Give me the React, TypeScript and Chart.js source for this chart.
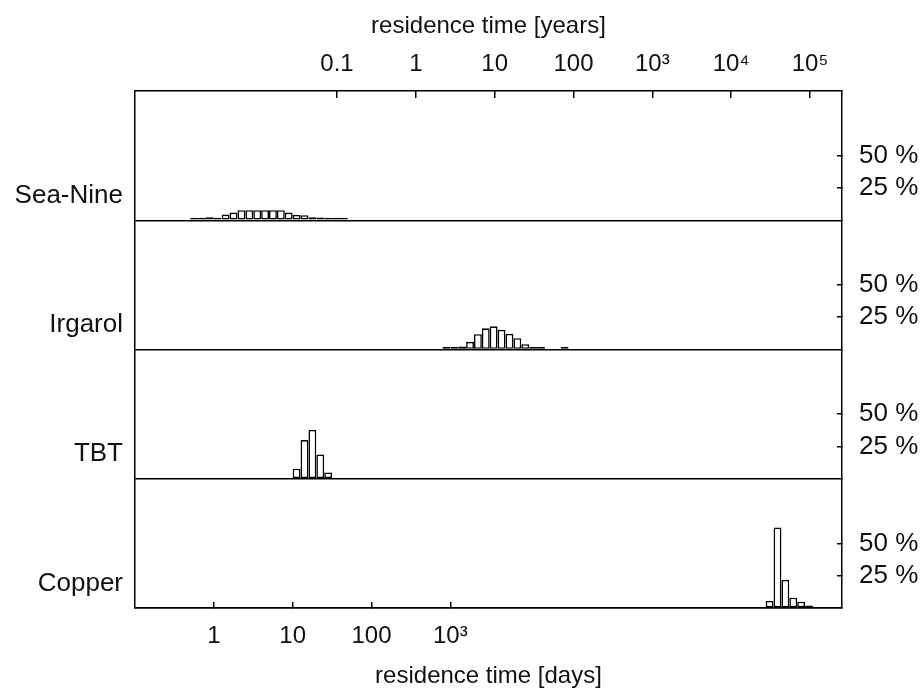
import React, { useEffect, useRef } from 'react';
import { Chart, registerables } from 'chart.js';

Chart.register(...registerables);

// ---- data ----
const panelNames = ['Sea-Nine', 'Irgarol', 'TBT', 'Copper'];

// bin centres in days (0.1-decade log bins) and share of runs in %
const seaNineDays = [0.562, 0.708, 0.891, 1.122, 1.413, 1.778, 2.239, 2.818, 3.548, 4.467, 5.623, 7.079, 8.913, 11.22, 14.13, 17.78, 22.39, 28.18, 35.48, 44.67];
const seaNinePct = [2.0, 2.0, 2.4, 2.0, 4.4, 5.9, 7.8, 7.8, 7.8, 7.8, 7.8, 7.8, 5.9, 4.1, 3.9, 2.3, 2.1, 2.0, 2.0, 2.0];

const irgarolDays = [891.3, 1122, 1413, 1778, 2239, 2818, 3548, 4467, 5623, 7079, 8913, 11220, 14130, 28180];
const irgarolPct = [2.0, 2.0, 2.4, 5.9, 11.8, 16.4, 17.9, 15.2, 12.1, 8.7, 4.1, 2.0, 2.0, 2.0];

const tbtDays = [11.22, 14.13, 17.78, 22.39, 28.18];
const tbtPct = [7.8, 29.9, 37.8, 18.8, 4.9];

const copperDays = [11220000, 14130000, 17780000, 22390000, 28180000, 35480000];
const copperPct = [5.4, 62.3, 21.8, 8.0, 4.9, 2.0];

const bottomTickValues = [1, 10, 100, 1000];
const bottomTickLabels = ['1', '10', '100', '10³'];
const topTickValues = [0.1, 1, 10, 100, 1000, 10000, 100000];
const topTickLabels = ['0.1', '1', '10', '100', '10³', '10⁴', '10⁵'];
const percentTickValues = [25, 50];
const percentTickLabels = ['25 %', '50 %'];
const nameTickValue = 19;

const DAYS_PER_YEAR = 365.25;
const X_MIN_DAYS = 0.1;
const X_MAX_DAYS = 9.3e7;

const FONT = "'Liberation Sans', Arial, Helvetica, sans-serif";
const INK = '#111';

const panelDays = [seaNineDays, irgarolDays, tbtDays, copperDays];
const panelPct = [seaNinePct, irgarolPct, tbtPct, copperPct];

function nameAxis(i: number) {
  return {
    type: 'linear',
    position: 'left',
    stack: 'left',
    stackWeight: 1,
    weight: 10 - i,
    min: 0,
    max: 100,
    afterBuildTicks: (s: any) => {
      s.ticks = [{ value: 0 }, { value: nameTickValue }];
    },
    ticks: {
      autoSkip: false,
      padding: 12,
      color: INK,
      font: { family: FONT, size: 26 },
      callback: (v: number) => (v === nameTickValue ? panelNames[i] : ''),
    },
    grid: {
      drawTicks: false,
      drawOnChartArea: true,
      lineWidth: 1.5,
      color: (c: any) => (c.tick && c.tick.value === 0 ? '#000' : 'rgba(0,0,0,0)'),
    },
    border: { display: true, color: '#000', width: 1.5 },
    afterFit: (s: any) => {
      s.width = 135;
    },
  };
}

function percentAxis(i: number) {
  return {
    type: 'linear',
    position: 'right',
    stack: 'right',
    stackWeight: 1,
    weight: i,
    min: 0,
    max: 100,
    afterBuildTicks: (s: any) => {
      s.ticks = percentTickValues.map((v) => ({ value: v }));
    },
    ticks: {
      autoSkip: false,
      padding: 22,
      color: INK,
      font: { family: FONT, size: 26 },
      callback: (_v: number, idx: number) => percentTickLabels[idx],
    },
    grid: {
      drawOnChartArea: false,
      drawTicks: true,
      tickLength: -5,
      color: '#000',
      lineWidth: 1.5,
    },
    border: { display: true, color: '#000', width: 1.5 },
    afterFit: (s: any) => {
      s.width = 79;
    },
  };
}

export default function App() {
  const canvasRef = useRef<HTMLCanvasElement | null>(null);

  useEffect(() => {
    if (!canvasRef.current) return;
    Chart.defaults.font.family = FONT;

    const datasets = panelNames.map((name, i) => ({
      label: name,
      data: panelDays[i].map((d, k) => ({ x: d, y: panelPct[i][k] })),
      xAxisID: 'x',
      yAxisID: 'p' + i,
      backgroundColor: '#fff',
      borderColor: '#000',
      borderWidth: 1.6,
      borderSkipped: false,
      inflateAmount: 0,
      grouped: false,
      categoryPercentage: 1,
      barPercentage: 1,
    }));

    const scales: any = {
      x: {
        type: 'logarithmic',
        position: 'bottom',
        min: X_MIN_DAYS,
        max: X_MAX_DAYS,
        offset: false,
        afterBuildTicks: (s: any) => {
          s.ticks = bottomTickValues.map((v) => ({ value: v }));
        },
        ticks: {
          autoSkip: false,
          maxRotation: 0,
          minRotation: 0,
          padding: 20,
          color: INK,
          font: { family: FONT, size: 24 },
          callback: (_v: number, idx: number) => bottomTickLabels[idx],
        },
        grid: {
          offset: false,
          drawOnChartArea: false,
          drawTicks: true,
          tickLength: -6,
          color: '#000',
          lineWidth: 1.5,
        },
        border: { display: true, color: '#000', width: 1.5 },
        title: {
          display: true,
          text: 'residence time [days]',
          color: INK,
          font: { family: FONT, size: 24 },
          padding: { top: 4, bottom: 0 },
        },
        afterFit: (s: any) => {
          s.height = 83;
        },
      },
      x2: {
        type: 'logarithmic',
        axis: 'x',
        position: 'top',
        min: X_MIN_DAYS / DAYS_PER_YEAR,
        max: X_MAX_DAYS / DAYS_PER_YEAR,
        offset: false,
        afterBuildTicks: (s: any) => {
          s.ticks = topTickValues.map((v) => ({ value: v }));
        },
        ticks: {
          autoSkip: false,
          maxRotation: 0,
          minRotation: 0,
          padding: 19,
          color: INK,
          font: { family: FONT, size: 24 },
          callback: (_v: number, idx: number) => topTickLabels[idx],
        },
        grid: {
          offset: false,
          drawOnChartArea: false,
          drawTicks: true,
          tickLength: -7,
          color: '#000',
          lineWidth: 1.5,
        },
        border: { display: true, color: '#000', width: 1.5 },
        title: {
          display: true,
          text: 'residence time [years]',
          color: INK,
          font: { family: FONT, size: 24 },
          padding: { top: 12, bottom: 0 },
        },
        afterFit: (s: any) => {
          s.height = 91;
        },
      },
    };
    panelNames.forEach((_n, i) => {
      scales['p' + i] = nameAxis(i);
      scales['r' + i] = percentAxis(i);
    });

    const chart = new Chart(canvasRef.current, {
      type: 'bar',
      data: { datasets } as any,
      options: {
        animation: false,
        responsive: false,
        maintainAspectRatio: false,
        layout: { padding: 0, autoPadding: false },
        plugins: {
          legend: { display: false },
          tooltip: { enabled: false },
          title: { display: false },
        },
        scales,
      } as any,
    });
    return () => chart.destroy();
  }, []);

  return (
    <div style={{ position: 'absolute', left: 0, top: 0, width: 921, height: 691, background: '#fff' }}>
      <canvas ref={canvasRef} width={921} height={691} style={{ display: 'block', width: 921, height: 691 }} />
    </div>
  );
}
